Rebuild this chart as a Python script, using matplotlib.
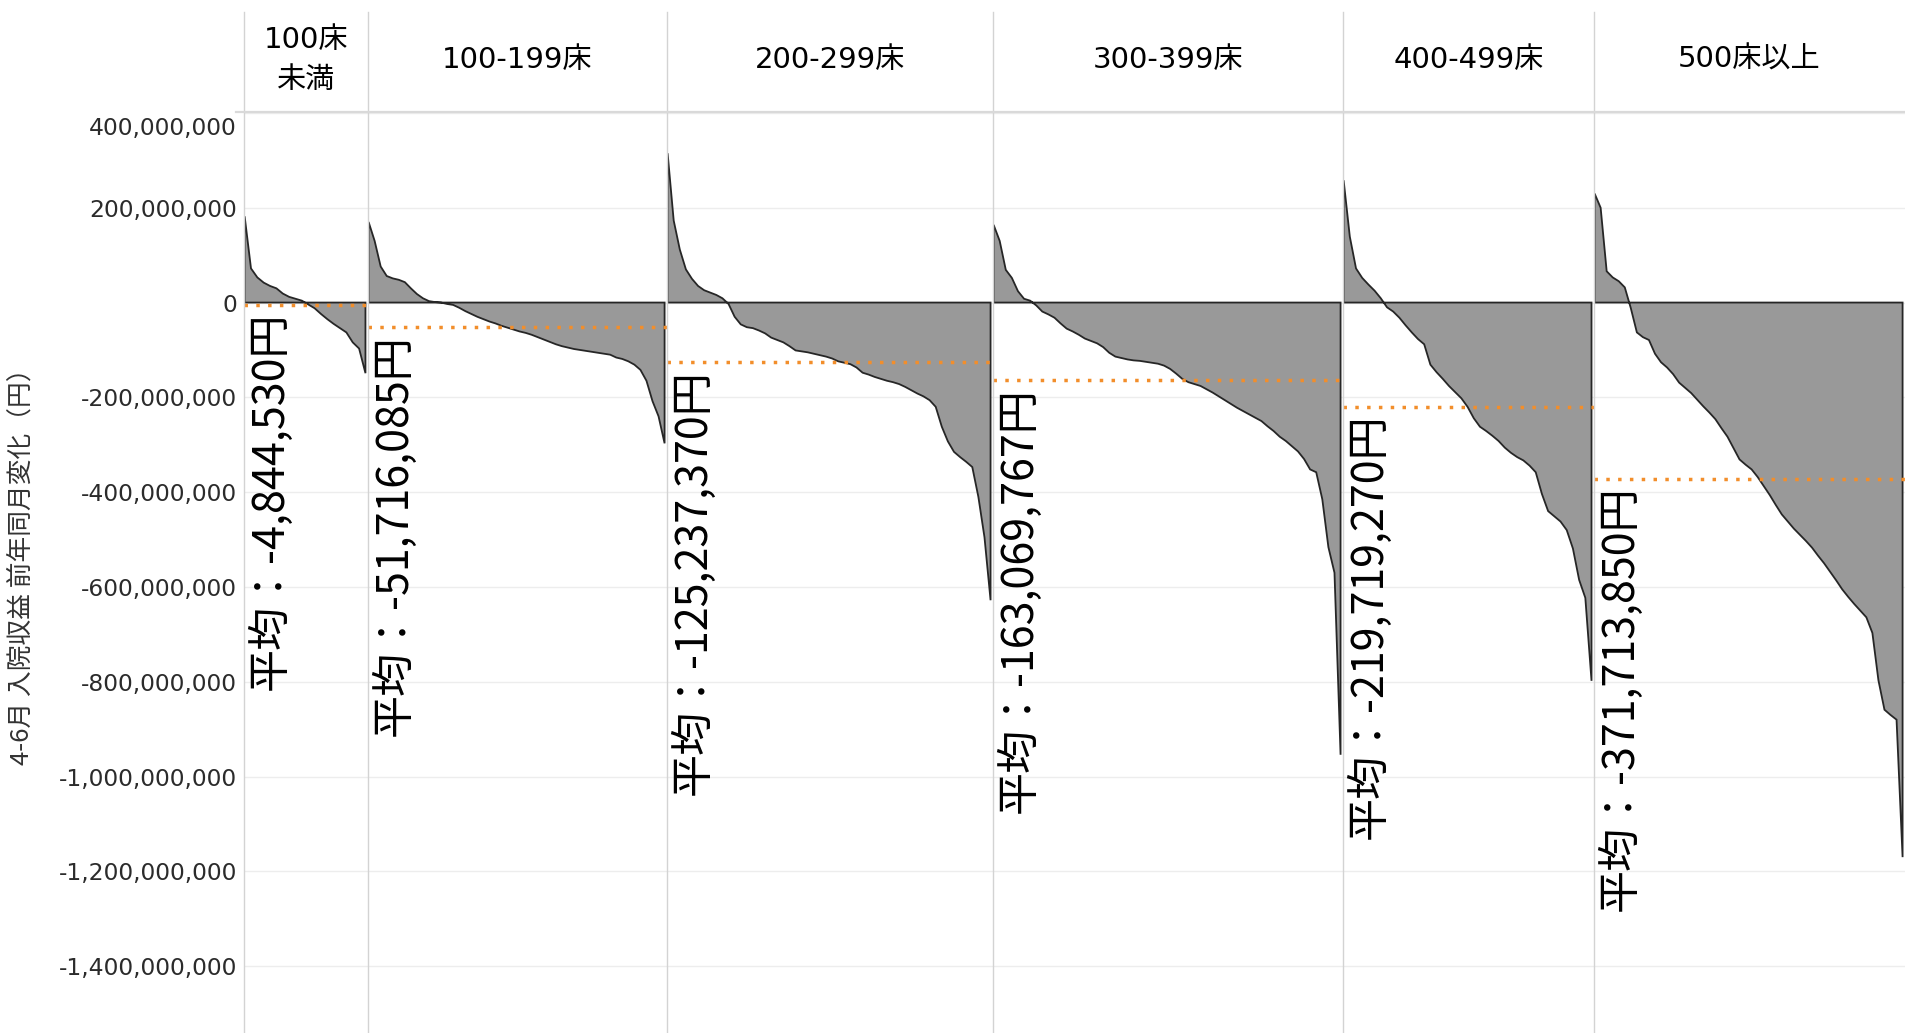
import matplotlib
matplotlib.use("Agg")
import matplotlib.pyplot as plt
import numpy as np
from matplotlib.lines import Line2D
from matplotlib.ticker import FuncFormatter

plt.rcParams['font.family'] = ['DejaVu Sans', 'Noto Sans CJK JP']

groups = ["100床\n未満", "100-199床", "200-299床", "300-399床", "400-499床", "500床以上"]
means = [-4844530, -51716085, -125237370, -163069767, -219719270, -371713850]

# 病院ごとの前年同月差（百万円、降順）
g1 = [182, 72, 53, 42, 35, 30, 19, 12, 8, 4, -4, -12, -24, -35, -45, -54, -63, -84, -97, -149]
g2 = [170, 130, 76, 56, 51, 48, 43, 30, 18, 9, 3, 1, 0, -3, -5, -11, -18, -24, -30, -35,
      -40, -44, -49, -53, -57, -61, -64, -68, -73, -78, -83, -88, -92, -95, -98, -100,
      -102, -104, -106, -108, -110, -116, -119, -124, -131, -142, -165, -208, -240, -297]
g3 = [315, 173, 112, 70, 50, 35, 26, 21, 16, 9, -3, -30, -46, -52, -54, -59, -65, -74,
      -79, -84, -92, -101, -103, -105, -108, -111, -114, -118, -124, -127, -130, -137,
      -148, -152, -157, -161, -165, -168, -172, -178, -185, -192, -198, -206, -220, -262,
      -293, -315, -326, -336, -347, -410, -495, -628]
g4 = [164, 130, 69, 52, 24, 8, 4, -6, -19, -25, -32, -44, -55, -61, -68, -76, -81, -86,
      -94, -106, -114, -117, -120, -122, -123, -125, -127, -129, -133, -140, -150, -161,
      -168, -172, -176, -183, -190, -198, -206, -214, -222, -229, -236, -243, -250, -261,
      -271, -283, -292, -303, -314, -330, -352, -358, -415, -516, -570, -954]
g5 = [258, 139, 72, 52, 38, 25, 9, -10, -19, -32, -48, -63, -77, -88, -131, -147, -161,
      -176, -189, -202, -220, -244, -262, -271, -281, -292, -306, -317, -326, -333, -344,
      -358, -404, -440, -451, -462, -480, -519, -585, -623, -798]
g6 = [230, 200, 66, 53, 45, 32, -12, -63, -73, -79, -108, -126, -137, -151, -169, -180,
      -191, -205, -219, -232, -246, -265, -283, -307, -331, -342, -352, -368, -387, -406,
      -427, -447, -462, -477, -490, -503, -517, -534, -550, -568, -586, -605, -621, -636,
      -650, -664, -697, -797, -859, -870, -880, -1170]
series = [g1, g2, g3, g4, g5, g6]

ticks = np.arange(-1400e6, 400e6 + 1, 200e6)

W, H = 1905, 1033
fig = plt.figure(figsize=(W / 100, H / 100), dpi=100)
gs = fig.add_gridspec(1, 6, width_ratios=[124, 299, 326, 350, 251, 311],
                      left=244 / W, right=1, top=1 - 112 / H, bottom=0, wspace=0)
axes = [fig.add_subplot(gs[0, i]) for i in range(6)]

for i, ax in enumerate(axes):
    vals = np.array(series[i]) * 1e6
    x = np.arange(len(vals))
    ax.fill(np.r_[x[0], x, x[-1]], np.r_[0, vals, 0], facecolor="#999999",
            edgecolor="#262626", lw=1.3, zorder=2)
    ax.axhline(means[i], color="#f28e2b", lw=2.5, linestyle=(0, (1, 2.4)), zorder=3)
    ax.set_xlim(-0.1, len(vals) - 1 + 0.4)
    ax.set_ylim(-1541e6, 402e6)
    ax.set_yticks(ticks)
    ax.yaxis.set_major_formatter(FuncFormatter(lambda v, p: "" if v > 300e6 else f"{v:,.0f}"))
    ax.grid(axis="y", color="#ededed", lw=1)
    ax.set_axisbelow(True)
    ax.set_xticks([])
    for s in ax.spines.values():
        s.set_visible(False)
    ax.tick_params(axis="y", length=0, labelsize=16.8, labelcolor="#2b2b2b", pad=5)
    if i > 0:
        ax.tick_params(labelleft=False)

    ax.annotate(f"平均：{means[i]:,}円", xy=(0, means[i]), xycoords=("axes fraction", "data"),
                xytext=(3, -5), textcoords="offset points", rotation=90, ha="left", va="top",
                fontsize=31, family=["Noto Sans CJK JP"], color="black", zorder=5,
                annotation_clip=False)

    pos = ax.get_position()
    fig.add_artist(Line2D([pos.x0, pos.x0], [0, 1 - 12 / H], color="#d3d3d3", lw=1))
    fig.text((pos.x0 + pos.x1) / 2, 1 - 60 / H, groups[i], ha="center", va="center",
             fontsize=21, linespacing=1.5, color="black")

axes[0].annotate("400,000,000", xy=(0, 400e6), xycoords=("axes fraction", "data"),
                 xytext=(-5, -11), textcoords="offset points", ha="right", va="center",
                 fontsize=16.8, color="#2b2b2b", annotation_clip=False)

fig.add_artist(Line2D([236 / W, 1], [1 - 112 / H, 1 - 112 / H], color="#d9d9d9", lw=1.6))
fig.text(22 / W, 1 - 560 / H, "4-6月 入院収益 前年同月変化（円）", rotation=90,
         ha="center", va="center", fontsize=18.5, color="#333333", family=["Noto Sans CJK JP"])

fig.savefig("out.png", dpi=100, facecolor="white")
